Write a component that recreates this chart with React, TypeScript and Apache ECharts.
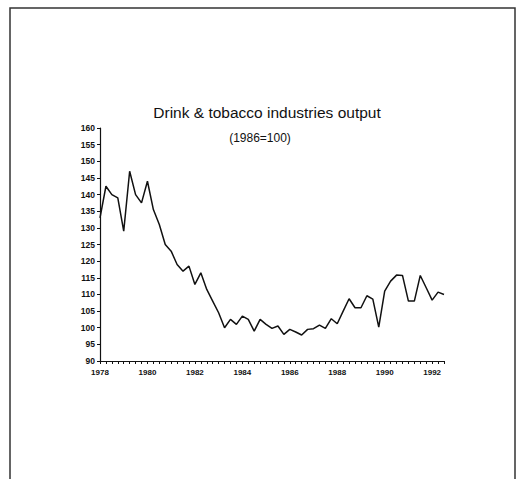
import React, { useEffect, useRef } from "react";
import * as echarts from "echarts";

const years = [1978, 1979, 1980, 1981, 1982, 1983, 1984, 1985, 1986, 1987, 1988, 1989, 1990, 1991, 1992];
const quarters = ["Q1", "Q2", "Q3", "Q4"];

const output = [
  133, 142.5, 140, 139, 129, 147, 140, 137.5,
  144, 135.5, 131, 125, 123, 119, 117, 118.5,
  113, 116.5, 111.5, 108, 104.5, 100, 102.5, 101,
  103.5, 102.5, 99, 102.5, 101, 99.8, 100.5, 98,
  99.5, 98.7, 97.8, 99.5, 99.7, 100.8, 99.8, 102.7,
  101.2, 105, 108.7, 106, 106, 109.6, 108.6, 100.2,
  111, 114, 115.8, 115.7, 108, 108, 115.7, 112,
  108.3, 110.7, 110,
];

const categories = years
  .flatMap((y) => quarters.map((q) => `${y} ${q}`))
  .slice(0, output.length);

const title = "Drink & tobacco industries output";
const subtitle = "(1986=100)";

export default function App() {
  const ref = useRef<HTMLDivElement>(null);
  useEffect(() => {
    document.body.style.margin = "0";
    if (!ref.current) return;
    const chart = echarts.init(ref.current, undefined, { renderer: "svg" });
    const font = "'Liberation Sans', Arial, sans-serif";
    chart.setOption({
      animation: false,
      backgroundColor: "#ffffff",
      title: [
        {
          text: title,
          left: 262,
          top: 99,
          textAlign: "center",
          textStyle: { fontFamily: font, fontSize: 15.5, fontWeight: "normal", color: "#111" },
        },
        {
          text: subtitle,
          left: 255,
          top: 127,
          textAlign: "center",
          textStyle: { fontFamily: font, fontSize: 12, fontWeight: "normal", color: "#111" },
        },
      ],
      graphic: [
        {
          type: "rect",
          shape: { x: 10, y: 8, width: 505, height: 490 },
          style: { fill: "none", stroke: "#333", lineWidth: 1.5 },
          silent: true,
        },
      ],
      grid: { left: 100, top: 128, right: 78, bottom: 118 },
      xAxis: {
        type: "category",
        data: categories,
        boundaryGap: false,
        axisLine: { lineStyle: { color: "#111", width: 1.2 } },
        axisTick: { show: true, interval: 0, length: 3, inside: false, lineStyle: { color: "#111" } },
        axisLabel: {
          interval: (index: number) => index % 8 === 0,
          formatter: (v: string) => v.split(" ")[0],
          fontFamily: font,
          fontSize: 8,
          fontWeight: "bold",
          color: "#111",
          margin: 7,
        },
        splitLine: { show: false },
      },
      yAxis: {
        type: "value",
        min: 90,
        max: 160,
        interval: 5,
        axisLine: { show: true, lineStyle: { color: "#111", width: 1.2 } },
        axisTick: { show: true, length: 3, inside: false, lineStyle: { color: "#111" } },
        axisLabel: {
          fontFamily: font,
          fontSize: 8.5,
          fontWeight: "bold",
          color: "#111",
          margin: 5,
        },
        splitLine: { show: false },
      },
      series: [
        {
          type: "line",
          data: output,
          symbol: "none",
          lineStyle: { color: "#111", width: 1.5 },
        },
      ],
    });
    return () => chart.dispose();
  }, []);
  return <div ref={ref} style={{ position: "absolute", left: 0, top: 0, width: 522, height: 479 }} />;
}
